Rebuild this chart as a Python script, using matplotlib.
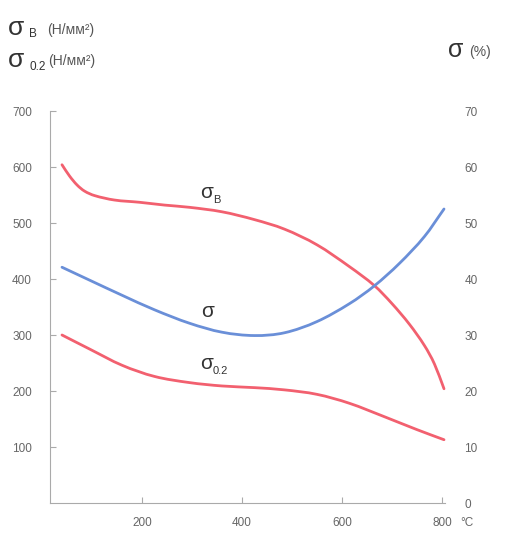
import matplotlib
matplotlib.use("Agg")
import matplotlib.pyplot as plt
from matplotlib.path import Path
from matplotlib.patches import PathPatch

plt.rcParams['font.family'] = ['Liberation Sans', 'DejaVu Sans']

# Data
temp_b = [40, 55, 70, 85, 105, 145, 195, 245, 295, 360, 425, 485, 550, 615, 665, 700, 735, 765, 785, 804]
sigma_b = [604, 584, 568, 557, 549, 541, 537, 532, 528, 520, 506, 489, 461, 422, 388, 356, 319, 281, 248, 204]

temp_d = [40, 95, 160, 225, 295, 360, 425, 485, 550, 615, 665, 715, 765, 804]
delta = [42.1, 39.8, 37.1, 34.5, 32.1, 30.5, 29.9, 30.4, 32.4, 35.6, 38.8, 42.8, 47.6, 52.5]

temp_02 = [40, 95, 160, 225, 295, 360, 425, 485, 550, 615, 685, 750, 804]
sigma_02 = [300, 275, 246, 226, 215, 209, 206, 202, 194, 178, 154, 131, 113]

x_ticks = [200, 400, 600, 800]
left_ticks = [100, 200, 300, 400, 500, 600, 700]
right_ticks = [0, 10, 20, 30, 40, 50, 60, 70]

RED = '#f2606f'
BLUE = '#6a8fd8'
GRAY = '#aaaaaa'
TXT = '#666666'
DARK = '#333333'


def smooth_path(xs, ys):
    """Cubic Hermite curve through the given points, drawn as Bezier segments."""
    n = len(xs)
    m = []
    for i in range(n):
        if i == 0:
            m.append((ys[1] - ys[0]) / (xs[1] - xs[0]))
        elif i == n - 1:
            m.append((ys[-1] - ys[-2]) / (xs[-1] - xs[-2]))
        else:
            m.append((ys[i + 1] - ys[i - 1]) / (xs[i + 1] - xs[i - 1]))
    verts = [(xs[0], ys[0])]
    codes = [Path.MOVETO]
    for i in range(n - 1):
        dx = xs[i + 1] - xs[i]
        verts += [(xs[i] + dx / 3, ys[i] + m[i] * dx / 3),
                  (xs[i + 1] - dx / 3, ys[i + 1] - m[i + 1] * dx / 3),
                  (xs[i + 1], ys[i + 1])]
        codes += [Path.CURVE4] * 3
    return Path(verts, codes)


W, H = 511, 537
fig = plt.figure(figsize=(W / 100, H / 100), dpi=100)


def fx(px):
    return px / W


def fy(py):
    return 1 - py / H


ax = fig.add_axes([fx(50), fy(503), fx(445) - fx(50), fy(111) - fy(503)])
ax2 = ax.twinx()

ax.add_patch(PathPatch(smooth_path(temp_b, sigma_b), fill=False, edgecolor=RED, lw=2, capstyle='round', clip_on=False))
ax.add_patch(PathPatch(smooth_path(temp_02, sigma_02), fill=False, edgecolor=RED, lw=2, capstyle='round', clip_on=False))
ax2.add_patch(PathPatch(smooth_path(temp_d, delta), fill=False, edgecolor=BLUE, lw=2, capstyle='round', clip_on=False))

ax.set_xlim(16, 806)
ax.set_ylim(0, 700)
ax2.set_ylim(0, 70)

for a in (ax, ax2):
    for s in ('top', 'right'):
        a.spines[s].set_visible(False)
ax2.spines['left'].set_visible(False)
ax2.spines['bottom'].set_visible(False)
ax.spines['left'].set_color(GRAY)
ax.spines['bottom'].set_color(GRAY)

ax.set_xticks(x_ticks)
ax.set_xticklabels([str(v) for v in x_ticks])
ax.set_yticks(left_ticks)
ax.set_yticklabels([str(v) for v in left_ticks])
ax2.set_yticks(right_ticks)
ax2.set_yticklabels([str(v) for v in right_ticks])

ax.tick_params(axis='x', direction='in', length=4, color=GRAY, labelsize=8.5, labelcolor=TXT, pad=10)
ax.tick_params(axis='y', direction='in', length=4, color=GRAY, labelsize=8.5, labelcolor=TXT, pad=13)
ax2.tick_params(axis='y', length=0, labelsize=8.5, labelcolor=TXT, pad=14)
for lab in ax2.get_yticklabels():
    lab.set_ha('left')

# degree label
fig.text(fx(460), fy(526), '°C', fontsize=8.5, color=TXT, ha='left', va='baseline')

# curve labels
ax.text(316, 544, 'σ', fontsize=15, color=DARK, ha='left', va='baseline')
ax.text(342, 535, 'B', fontsize=8, color=DARK, ha='left', va='baseline')
ax.text(318, 333, 'σ', fontsize=15, color=DARK, ha='left', va='baseline')
ax.text(316, 240, 'σ', fontsize=15, color=DARK, ha='left', va='baseline')
ax.text(342, 230, '0.2', fontsize=8, color=DARK, ha='left', va='baseline')

# header labels
fig.text(fx(8), fy(35), 'σ', fontsize=19, color=DARK, ha='left', va='baseline')
fig.text(fx(29), fy(37), 'B', fontsize=8.5, color=DARK, ha='left', va='baseline')
fig.text(fx(47), fy(34), '(Н/мм²)', fontsize=10, color='#555555', ha='left', va='baseline')
fig.text(fx(8), fy(67), 'σ', fontsize=19, color=DARK, ha='left', va='baseline')
fig.text(fx(29), fy(70), '0.2', fontsize=8.5, color=DARK, ha='left', va='baseline')
fig.text(fx(48), fy(65), '(Н/мм²)', fontsize=10, color='#555555', ha='left', va='baseline')
fig.text(fx(448), fy(57), 'σ', fontsize=18, color=DARK, ha='left', va='baseline')
fig.text(fx(469), fy(56), '(%)', fontsize=10, color='#555555', ha='left', va='baseline')

fig.savefig('out.png', dpi=100)
